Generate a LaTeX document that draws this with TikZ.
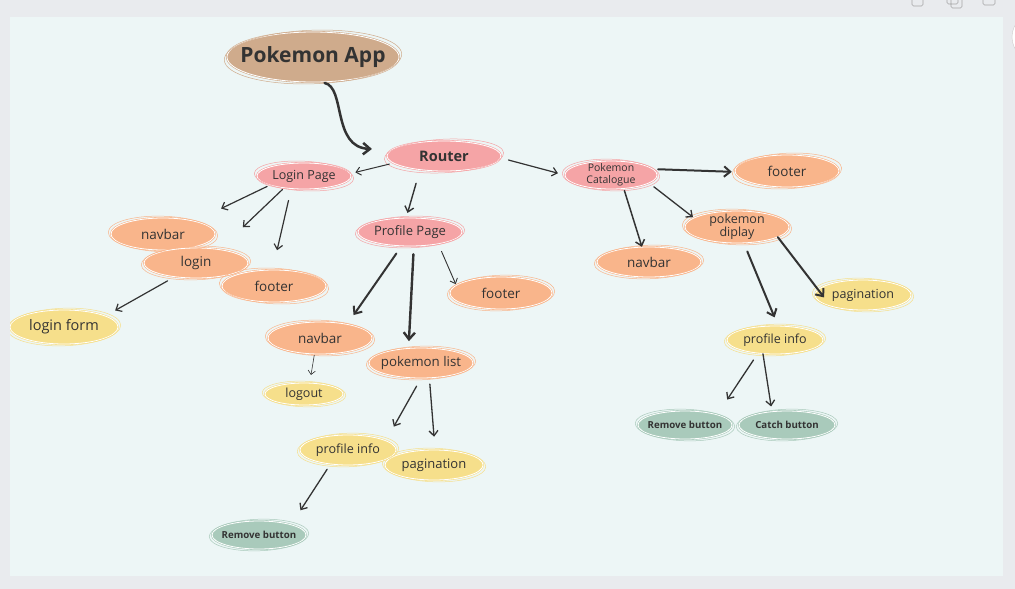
\documentclass[tikz,border=0pt]{standalone}
\usepackage{fontspec}
\setmainfont{Open Sans}
\usetikzlibrary{calc}
\usetikzlibrary{arrows.meta}
\usetikzlibrary{shapes.geometric}
\usepackage{xcolor}
\definecolor{pagebg}{HTML}{E9EBEE}
\definecolor{canvas}{HTML}{EDF6F6}
\definecolor{ink}{HTML}{333333}
\definecolor{tanc}{HTML}{CFAB8C}
\definecolor{pinkc}{HTML}{F5A4A6}
\definecolor{orangec}{HTML}{F9B58B}
\definecolor{yellowc}{HTML}{F6DF8B}
\definecolor{greenc}{HTML}{A9CABB}

\tikzset{
 blob/.style={ellipse, fill=#1, draw=#1, double=white, double distance=.8pt, line width=.6pt, inner xsep=-30pt, inner ysep=-4pt, text=ink, align=center},
 arr/.style={draw=ink, line width=#1, line cap=round, -{Straight Barb[length=3pt 1.6, width=6pt 2.2]}},
 arr/.default=1.2pt,
 txt/.style={font=\fontsize{#1}{#1}\selectfont},
 btxt/.style={font=\bfseries\fontsize{#1}{#1}\selectfont}
}

\begin{document}
\begin{tikzpicture}[x=1pt, y=-1pt]
\useasboundingbox (0,0) rectangle (1015,589);
\fill[pagebg] (0,0) rectangle (1015,589);
\fill[canvas] (10,17) rectangle (1003,576);
\draw[gray!70, line width=.6pt, rounded corners=1.5pt] (912,-6) rectangle (923,6) (947,-6) rectangle (958,4) (951,-2) rectangle (962,8) (983,-6) rectangle (995,5);
\draw[gray!40, fill=white] (1036,37) circle (24);

\begin{scope}
\clip (10,17) rectangle (1003,576);
\node[blob=tanc, minimum width=172pt, minimum height=50pt, btxt=21] (app) at (313,57) {Pokemon App};
\node[blob=pinkc, minimum width=114pt, minimum height=30pt, btxt=14.5] (router) at (444,156) {Router};
\node[blob=pinkc, minimum width=94pt, minimum height=26pt, txt=12.5] (loginpage) at (304,176) {Login Page};
\node[blob=pinkc, minimum width=104pt, minimum height=28pt, txt=13] (profile) at (410,232) {Profile Page};
\node[blob=pinkc, minimum width=92pt, minimum height=28pt, font=\fontsize{10.5}{11.5}\selectfont] (catalogue) at (611,175) {Pokemon\\Catalogue};

\node[blob=orangec, minimum width=104pt, minimum height=32pt, txt=13.5] (footerC) at (787,171) {footer};
\node[blob=orangec, minimum width=104pt, minimum height=32pt, font=\fontsize{12.5}{13.5}\selectfont] (display) at (737,227) {pokemon\\diplay};
\node[blob=orangec, minimum width=104pt, minimum height=30pt, txt=13.5] (navbarC) at (649,262) {navbar};
\node[blob=yellowc, minimum width=96pt, minimum height=30pt, txt=12.5] (paginationC) at (863,295) {pagination};
\node[blob=yellowc, minimum width=96pt, minimum height=28pt, txt=12.5] (profinfoC) at (775,340) {profile info};
\node[blob=greenc, minimum width=94pt, minimum height=28pt, btxt=9.7] (removeC) at (685,425) {Remove button};
\node[blob=greenc, minimum width=96pt, minimum height=28pt, btxt=9.7] (catchC) at (787,425) {Catch button};

\node[blob=orangec, minimum width=104pt, minimum height=32pt, txt=13.5] (navbarA) at (163,234) {navbar};
\node[blob=orangec, minimum width=104pt, minimum height=30pt, txt=13.5] (loginA) at (196,263) {login};
\node[blob=orangec, minimum width=104pt, minimum height=32pt, txt=13.5] (footerA) at (274,286) {footer};
\node[blob=yellowc, minimum width=108pt, minimum height=34pt, txt=14.5] (loginform) at (64,327) {login form};

\node[blob=orangec, minimum width=102pt, minimum height=32pt, txt=13.5] (footerP) at (501,293) {footer};
\node[blob=orangec, minimum width=104pt, minimum height=32pt, txt=13.5] (navbarP) at (320,338) {navbar};
\node[blob=orangec, minimum width=104pt, minimum height=30pt, txt=13.3] (listP) at (421,363) {pokemon list};
\node[blob=yellowc, minimum width=78pt, minimum height=22pt, txt=12.5] (logout) at (304,394) {logout};
\node[blob=yellowc, minimum width=96pt, minimum height=30pt, txt=12.6] (profinfoP) at (348,450) {profile info};
\node[blob=yellowc, minimum width=98pt, minimum height=30pt, txt=13] (paginationP) at (434,465) {pagination};
\node[blob=greenc, minimum width=94pt, minimum height=28pt, btxt=9.7] (removeP) at (259,535) {Remove button};

\foreach \nd/\c/\r in {app/tanc/2, router/pinkc/3, loginpage/pinkc/-3, profile/pinkc/2, catalogue/pinkc/-2,
 footerC/orangec/3, display/orangec/-2, navbarC/orangec/2, paginationC/yellowc/-2, profinfoC/yellowc/2,
 removeC/greenc/-2, catchC/greenc/2, navbarA/orangec/-2, loginA/orangec/2, footerA/orangec/-3,
 loginform/yellowc/2, footerP/orangec/2, navbarP/orangec/-2, listP/orangec/2, logout/yellowc/-2,
 profinfoP/yellowc/2, paginationP/yellowc/-2, removeP/greenc/2}
 \draw[\c, line width=.5pt, rotate around={\r:(\nd.center)}] let \p1=($(\nd.east)-(\nd.center)$), \p2=($(\nd.north)-(\nd.center)$) in (\nd.center) ellipse ({\x1+2.5pt} and {\y2+1.5pt});
\end{scope}

\draw[arr=2.5pt, shorten <=4pt, shorten >=20pt] (app.-73) .. controls +(25,5) and +(-60,-2) .. (router.173);
\draw[arr=1pt, shorten <=4pt, shorten >=5pt] (router.188) -- (loginpage.3);
\draw[arr=1.4pt, shorten <=14pt, shorten >=5pt] (router.210) -- (profile.105);
\draw[arr=1.2pt, shorten <=8pt, shorten >=7pt] (router.-2) -- (catalogue.west);

\draw[arr, shorten <=3pt, shorten >=29pt] (loginpage.195) -- (navbarA.22);
\draw[arr, shorten <=2pt, shorten >=32pt] (loginpage.211) -- (loginA.30);
\draw[arr, shorten <=12pt, shorten >=20pt] (loginpage.225) -- (footerA.95);
\draw[arr, shorten <=8pt, shorten >=11pt] (loginA.213) -- (loginform.15);

\draw[arr=2pt, shorten <=9pt, shorten >=11pt] (profile.239) -- (navbarP.27);
\draw[arr=2.4pt, shorten <=8pt, shorten >=7pt] (profile.-75) -- (listP.130);
\draw[arr=.9pt, shorten <=8pt, shorten >=1pt] (profile.-23) -- (footerP.170);
\draw[arr=.6pt, shorten <=1pt, shorten >=8pt] (navbarP.251) -- (logout.63);
\draw[arr=1.3pt, shorten <=9pt, shorten >=16pt] (listP.south) -- (profinfoP.14);
\draw[arr=1.3pt, shorten <=6pt, shorten >=13pt] (listP.-61) -- (paginationP.86);
\draw[arr=1.3pt, shorten <=6pt, shorten >=17pt] (profinfoP.219) -- (removeP.18);

\draw[arr=2pt, shorten <=5pt, shorten >=3pt] (catalogue.8) -- (footerC.181);
\draw[arr=1.5pt, shorten <=2pt] (catalogue.-47) -- (navbarC.115);
\draw[arr=1.3pt, shorten <=6pt, shorten >=1pt] (catalogue.-12) -- (display.168);
\draw[arr=2pt, shorten <=9pt, shorten >=9pt] (display.-67) -- (profinfoC.78);
\draw[arr=2pt, shorten >=-10pt] (display.-14) -- (paginationC.173);
\draw[arr=1.3pt, shorten <=8pt, shorten >=18pt] (profinfoC.218) -- (removeC.18);
\draw[arr=1.3pt, shorten >=5pt] (profinfoC.229) -- (catchC.138);
\end{tikzpicture}
\end{document}
